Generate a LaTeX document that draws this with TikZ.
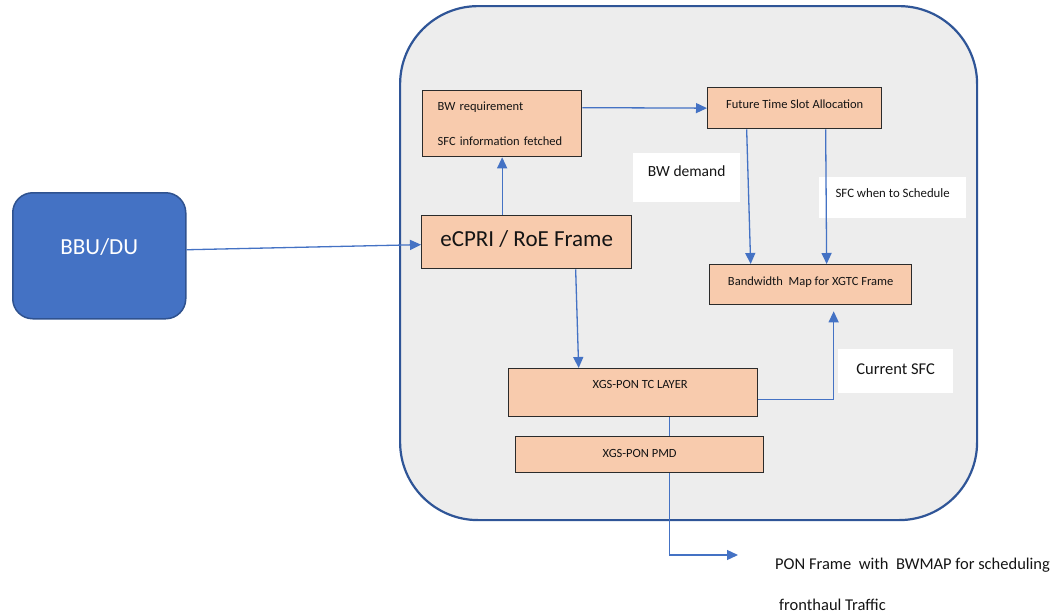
\documentclass[tikz,border=0pt]{standalone}
\usepackage{fontspec}
\setmainfont{Carlito}
\usetikzlibrary{arrows.meta}
\definecolor{peach}{HTML}{F8CBAD}
\definecolor{boxline}{HTML}{2B2B2B}
\definecolor{conn}{HTML}{4472C4}
\definecolor{bbufill}{HTML}{4472C4}
\definecolor{bbuline}{HTML}{2F528F}
\definecolor{outerline}{HTML}{2F5597}
\definecolor{outerfill}{HTML}{EDEDED}
\definecolor{txt}{HTML}{141414}
\tikzset{
  blk/.style={draw=boxline, fill=peach, line width=1.3pt, inner sep=0pt, anchor=north west, text=txt},
  lbl/.style={fill=white, inner sep=0pt, anchor=north west, text=txt},
  tb/.style 2 args={text height=#1pt, text depth=#2pt},
  con/.style={draw=conn, line width=1.3pt},
  arr/.style={con, -{Triangle[length=11pt,width=10pt]}},
}
\begin{document}
\begin{tikzpicture}[x=1pt,y=-1pt]
\useasboundingbox (0,0) rectangle (1057,613);
% outer ONU box
\node[draw=outerline, fill=outerfill, line width=2.2pt, rounded corners=78pt,
      anchor=north west, minimum width=577pt, minimum height=514pt, inner sep=0pt] (onu) at (399,5) {};
% BBU/DU
\node[draw=bbuline, fill=bbufill, line width=1.5pt, rounded corners=20pt, anchor=north west,
      minimum width=173pt, minimum height=126pt, inner sep=0pt, text=white,
      font=\fontsize{23pt}{27pt}\selectfont, tb={16.1}{19.4}] (bbu) at (12,192) {BBU/DU};
% blocks
\node[blk, minimum width=159pt, minimum height=66pt, text width=129pt, inner xsep=15pt,
      align=left, font=\fontsize{12.5pt}{35pt}\selectfont] (bwreq) at (422,90)
      {BW requirement\\SFC information fetched};
\node[blk, minimum width=174pt, minimum height=41pt, font=\fontsize{12.5pt}{15pt}\selectfont,
      tb={8.75}{7.75}] (future) at (707,87) {Future Time Slot Allocation};
\node[blk, minimum width=210pt, minimum height=53pt, font=\fontsize{23pt}{27pt}\selectfont,
      tb={16.1}{8.4}] (ecpri) at (421,215) {eCPRI / RoE Frame};
\node[blk, minimum width=202pt, minimum height=40pt, font=\fontsize{12.5pt}{15pt}\selectfont,
      tb={8.75}{6.75}] (bwmap) at (709,264) {Bandwidth\ \ Map for XGTC Frame};
\node[blk, minimum width=249pt, minimum height=48pt, font=\fontsize{12.5pt}{15pt}\selectfont,
      tb={8.75}{16.75}] (tc) at (508,368) {\hspace*{14pt}XGS-PON TC LAYER};
\node[blk, minimum width=248pt, minimum height=36pt, font=\fontsize{12.5pt}{15pt}\selectfont,
      tb={8.75}{2.75}] (pmd) at (515,436) {XGS-PON PMD};
% white labels
\node[lbl, minimum width=107pt, minimum height=49pt, font=\fontsize{15.5pt}{18pt}\selectfont,
      tb={10.85}{13.93}] (bwdemand) at (633,153) {BW demand};
\node[lbl, minimum width=147pt, minimum height=41pt, font=\fontsize{12.8pt}{15pt}\selectfont,
      tb={8.96}{9.6}] (sfcwhen) at (819,177) {SFC when to Schedule};
\node[lbl, minimum width=115pt, minimum height=44pt, font=\fontsize{16.5pt}{20pt}\selectfont,
      tb={11.55}{4.99}] (cursfc) at (838,349) {Current SFC};
% output text
\node[anchor=west, inner sep=0pt, text=txt, font=\fontsize{16.5pt}{19pt}\selectfont] (ponA) at (775,565)
      {PON Frame\ \ with\ \ BWMAP for scheduling};
\node[anchor=west, inner sep=0pt, text=txt, font=\fontsize{16.5pt}{19pt}\selectfont] (ponB) at (779,605)
      {fronthaul\ Traffic};
\coordinate (ponend) at (738,555);
% connectors
\draw[arr] ([yshift=6pt]bbu.east) -- ([yshift=-2.5pt]ecpri.west);
\draw[arr] ([xshift=-24.5pt]ecpri.north) -- (bwreq.south);
\draw[arr] ([yshift=16pt]bwreq.east) -- (future.west);
\draw[arr] ([xshift=-48pt]future.south) -- ([xshift=-60pt]bwmap.north);
\draw[arr] ([xshift=31pt]future.south) -- ([xshift=16pt]bwmap.north);
\draw[arr] ([xshift=49pt]ecpri.south) -- ([xshift=-54.5pt]tc.north);
\draw[arr] ([yshift=-7pt]tc.east) -| ([xshift=23pt,yshift=-6pt]bwmap.south);
\draw[con] ([xshift=36.5pt]tc.south) -- ([xshift=30pt]pmd.north);
\draw[arr] ([xshift=30pt]pmd.south) |- (ponend);
\end{tikzpicture}
\end{document}
